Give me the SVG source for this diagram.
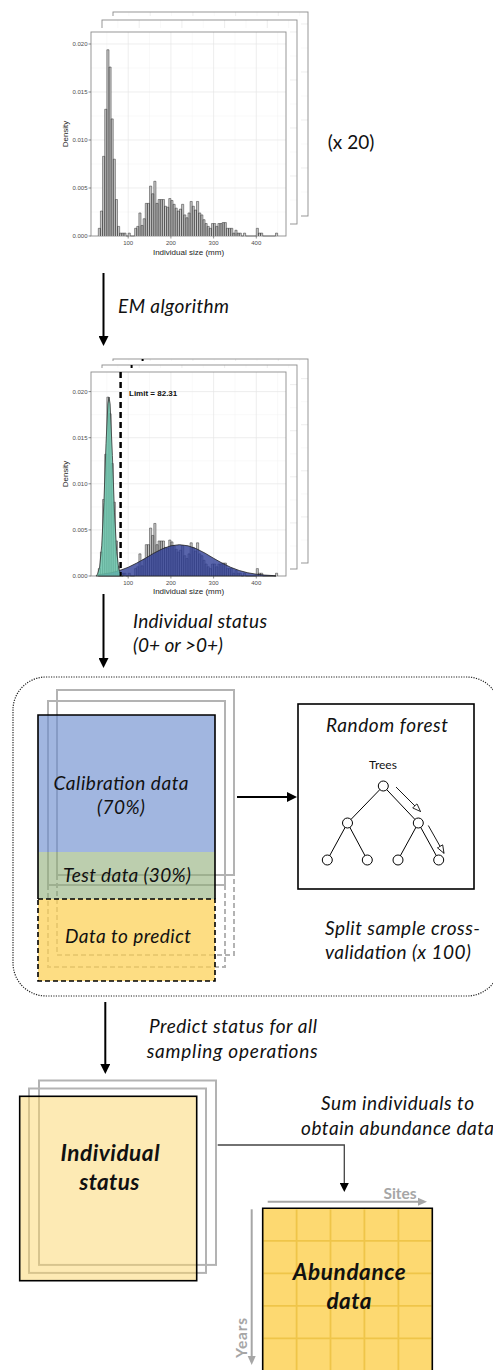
<svg xmlns="http://www.w3.org/2000/svg" xmlns:xlink="http://www.w3.org/1999/xlink" width="493" height="1370" viewBox="0 0 493 1370">
<style>
.t{font-family:Lato,"Open Sans","DejaVu Sans",sans-serif;fill:#111}
.i{font-style:italic;font-size:19px}
.r{font-size:19px}
.b{font-weight:bold;font-style:italic;font-size:22.5px}
.ax{font-family:"Liberation Sans",Arial,sans-serif;font-size:6px;fill:#4d4d4d}
.at{font-family:"Liberation Sans",Arial,sans-serif;font-size:8px;fill:#222}
.bg{fill:#fff}
.gmin{stroke:#f3f3f3;stroke-width:.5}
.gmaj{stroke:#e6e6e6;stroke-width:.7}
.pb{fill:none;stroke:#8c8c8c;stroke-width:.9}
.tk{stroke:#444;stroke-width:.6}
.fr{fill:none;stroke:#b3b3b3;stroke-width:2}
.frd{fill:none;stroke:#b3b3b3;stroke-width:2;stroke-dasharray:5 3}
.bk{fill:none;stroke:#000;stroke-width:1.6}
.arr{fill:none;stroke:#000;stroke-width:2}
.tr{fill:none;stroke:#000;stroke-width:1}
.nd{fill:#fff;stroke:#000;stroke-width:1}
.gr{fill:none;stroke:#a6a6a6;stroke-width:2}
.sg{font-family:Lato,"Open Sans",sans-serif;font-weight:bold;fill:#a6a6a6;font-size:15.5px}
</style>
<defs>
<marker id="ah" markerUnits="userSpaceOnUse" markerWidth="10" markerHeight="10" refX="7" refY="5" orient="auto"><path d="M0,0 L10,5 L0,10 z" fill="#000"/></marker>
<marker id="ah2" markerUnits="userSpaceOnUse" markerWidth="9" markerHeight="9" refX="6" refY="4.5" orient="auto"><path d="M0,0 L9,4.5 L0,9 z" fill="#000"/></marker>
<marker id="ag" markerUnits="userSpaceOnUse" markerWidth="10" markerHeight="10" refX="6" refY="5" orient="auto"><path d="M0,1 L9,5 L0,9 z" fill="#a6a6a6"/></marker>
<marker id="oa" markerUnits="userSpaceOnUse" markerWidth="10" markerHeight="8" refX="8.5" refY="3.5" orient="auto"><path d="M0.5,0.5 L8.5,3.5 L0.5,6.5 z" fill="#fff" stroke="#000" stroke-width=".8"/></marker>
<path id="bars" vector-effect="non-scaling-stroke" fill="#c6c6c6" stroke="#333" stroke-width=".5" d="M98.3 0v-.8h2.135v.8v-2.6h2.135v2.6v-8.3h2.135v8.3v-13.2h2.135v13.2v-19.4h2.135v19.4v-17.6h2.135v17.6v-12.2h2.135v12.2v-8h2.135v8v-3.8h2.135v3.8v-1h2.135v1v-.3h2.135v.3v-.3h2.135v.3v-.3h2.135v.3h2.135v-.3h2.135v.3h4.27v-.8h2.135v.8v-1h2.135v1v-2.4h2.135v2.4v-1.1h2.135v1.1v-1.8h2.135v1.8v-3.4h2.135v3.4v-3.4h2.135v3.4v-5.2h2.135v5.2v-4.4h2.135v4.4v-5.7h2.135v5.7v-3.4h2.135v3.4v-3.8h2.135v3.8v-3.8h2.135v3.8v-3.8h2.135v3.8v-3.1h2.135v3.1v-3h2.135v3v-3.9h2.135v3.9v-3.7h2.135v3.7v-3.3h2.135v3.3v-2.9h2.135v2.9v-2.6h2.135v2.6v-2.8h2.135v2.8v-3.3h2.135v3.3v-2.2h2.135v2.2v-1.9h2.135v1.9v-2.4h2.135v2.4v-3.6h2.135v3.6v-3.1h2.135v3.1v-2.7h2.135v2.7v-3.6h2.135v3.6v-2.4h2.135v2.4v-2.2h2.135v2.2v-1.7h2.135v1.7v-1.3h2.135v1.3v-1h2.135v1v-.8h2.135v.8v-1.3h2.135v1.3v-1.3h2.135v1.3v-1h2.135v1v-1.3h2.135v1.3v-1.3h2.135v1.3v-1.4h2.135v1.4v-1.4h2.135v1.4v-.8h2.135v.8v-.8h2.135v.8v-.8h2.135v.8v-.3h2.135v.3v-.6h2.135v.6v-.3h2.135v.3v-.3h2.135v.3h2.135v-.3h2.135v.3h10.675v-.8h2.135v.8v-.3h2.135v.3v-.3h2.135v.3h12.81v-.3h2.135v.3"/>
<g id="p1">
<path class="gmin" d="M106.85 32V236M149.55 32V236M192.25 32V236M234.95 32V236M277.65 32V236M91 212H286M91 164H286M91 116H286M91 68H286"/>
<path class="gmaj" d="M128.2 32V236M170.9 32V236M213.6 32V236M256.3 32V236M91 188H286M91 140H286M91 92H286M91 44H286"/>
<rect class="pb" x="91" y="32" width="195" height="204"/>
</g>
<g id="p2">
<path class="gmin" d="M106.85 372V576M149.55 372V576M192.25 372V576M234.95 372V576M277.65 372V576M91 553H286M91 506.9H286M91 460.8H286M91 414.7H286"/>
<path class="gmaj" d="M128.2 372V576M170.9 372V576M213.6 372V576M256.3 372V576M91 529.9H286M91 483.8H286M91 437.7H286M91 391.6H286"/>
<rect class="pb" x="91" y="372" width="195" height="204"/>
<path d="M120.6 372V576" stroke="#000" stroke-width="2" stroke-dasharray="6 4"/>
</g>
</defs>

<g id="hist1">
<g transform="translate(22,-20)"><rect class="bg" x="60" y="28" width="230" height="236"/><use xlink:href="#p1"/></g>
<g transform="translate(11,-12)"><rect class="bg" x="60" y="28" width="230" height="236"/><use xlink:href="#p1"/></g>
<rect class="bg" x="60" y="28" width="230" height="236"/>
<use xlink:href="#p1"/>
<use xlink:href="#bars" transform="translate(0,236) scale(1,9.6)"/>
<path class="tk" d="M88.5 236H91M88.5 188H91M88.5 140H91M88.5 92H91M88.5 44H91M128.2 236V238.5M170.9 236V238.5M213.6 236V238.5M256.3 236V238.5"/>
<g class="ax" text-anchor="end"><text x="87.5" y="238">0.000</text><text x="87.5" y="190">0.005</text><text x="87.5" y="142">0.010</text><text x="87.5" y="94">0.015</text><text x="87.5" y="46">0.020</text></g>
<g class="ax" text-anchor="middle"><text x="128.2" y="244.5">100</text><text x="170.9" y="244.5">200</text><text x="213.6" y="244.5">300</text><text x="256.3" y="244.5">400</text></g>
<text class="at" x="188.5" y="254.5" text-anchor="middle">Individual size (mm)</text>
<text class="at" transform="translate(68,134) rotate(-90)" text-anchor="middle">Density</text>
</g>
<text id="x20" class="t r" x="351" y="149" text-anchor="middle">(x 20)</text>

<g id="hist2">
<g transform="translate(22,-13)"><rect class="bg" x="60" y="368" width="230" height="236"/><use xlink:href="#p2"/></g>
<g transform="translate(11,-7)"><rect class="bg" x="60" y="368" width="230" height="236"/><use xlink:href="#p2"/></g>
<rect class="bg" x="60" y="368" width="230" height="236"/>
<use xlink:href="#p2"/>
<use xlink:href="#bars" transform="translate(0,576) scale(1,9.22)"/>
<path fill="#2f3e96" fill-opacity=".8" stroke="#222" stroke-width=".8" d="M98.3 576L98.3 574.7L111.1 572.8L119.7 570.5L128.2 567.3L136.7 563.1L145.3 558.3L153.8 553.2L162.4 548.8L170.9 545.8L179.4 544.7L188 545.8L196.5 548.8L205.1 553.2L213.6 558.3L222.1 563.1L230.7 567.3L239.2 570.5L247.8 572.8L256.3 574.2L264.8 575.1L273.4 575.6L276 576Z"/>
<path fill="#6ccab0" fill-opacity=".8" stroke="#333" stroke-width=".8" d="M96 576L97.5 574.1L99.6 567L101.7 545.9L103.9 502.5L106 443.8L107.9 403.9L109 397.1L110.1 403.9L112.4 455.5L114.5 512.9L116.7 551.8L118.8 569.2L120.9 574.6L123.1 576Z"/>
<path d="M120.6 372V576" stroke="#000" stroke-width="2" stroke-dasharray="6 4"/>
<text x="129" y="396" font-family="Liberation Sans, Arial, sans-serif" font-weight="bold" font-size="8" fill="#111">Limit = 82.31</text>
<path class="tk" d="M88.5 576H91M88.5 529.9H91M88.5 483.8H91M88.5 437.7H91M88.5 391.6H91M128.2 576V578.5M170.9 576V578.5M213.6 576V578.5M256.3 576V578.5"/>
<g class="ax" text-anchor="end"><text x="87.5" y="578">0.000</text><text x="87.5" y="531.9">0.005</text><text x="87.5" y="485.8">0.010</text><text x="87.5" y="439.7">0.015</text><text x="87.5" y="393.6">0.020</text></g>
<g class="ax" text-anchor="middle"><text x="128.2" y="584.5">100</text><text x="170.9" y="584.5">200</text><text x="213.6" y="584.5">300</text><text x="256.3" y="584.5">400</text></g>
<text class="at" x="188.5" y="594" text-anchor="middle">Individual size (mm)</text>
<text class="at" transform="translate(68,474) rotate(-90)" text-anchor="middle">Density</text>
</g>

<g id="connectors">
<path class="arr" d="M103.5 273V343" marker-end="url(#ah)"/>
<path class="arr" d="M103.5 594V665" marker-end="url(#ah)"/>
<path class="arr" d="M237 797H294" marker-end="url(#ah)"/>
<path class="arr" d="M105.3 1002V1071" marker-end="url(#ah)"/>
<path fill="none" stroke="#444" stroke-width="1.3" d="M217.7 1145H344.3V1189" marker-end="url(#ah2)"/>
</g>

<g id="labels">
<text class="t i" x="118" y="313" textLength="111">EM algorithm</text>
<text class="t i" x="133" y="628" textLength="134">Individual status</text>
<text class="t i" x="133" y="652" textLength="90">(0+ or &gt;0+)</text>
<text class="t i" x="149" y="1033" textLength="168">Predict status for all</text>
<text class="t i" x="146.7" y="1058" textLength="171">sampling operations</text>
<text class="t i" x="321" y="1110" textLength="153">Sum individuals to</text>
<text class="t i" x="301" y="1135" textLength="193">obtain abundance data</text>
</g>

<rect id="cv-box" x="13" y="677" width="487" height="319" rx="33" fill="none" stroke="#222" stroke-width="1.2" stroke-dasharray="1.2 1.3"/>

<g id="data-stack">
<path class="fr" d="M57 875V690H234V875ZM48 885V701H225V885Z"/>
<path class="frd" d="M57 875V955H234V875M48 885V967H225V885"/>
<rect x="38" y="715" width="177" height="137" fill="#6f8fcf" fill-opacity=".65"/>
<rect x="38" y="852" width="177" height="47" fill="#8fae78" fill-opacity=".6"/>
<rect x="38" y="899" width="177" height="82" fill="#fcd25a" fill-opacity=".75"/>
<path class="bk" d="M38 899V715H215V899"/>
<rect x="38" y="899" width="177" height="82" fill="none" stroke="#000" stroke-width="1.6" stroke-dasharray="5 3"/>
<text class="t i" x="121" y="790" text-anchor="middle" textLength="135">Calibration data</text>
<text class="t i" x="121" y="814" text-anchor="middle" textLength="48">(70%)</text>
<text class="t i" x="127" y="882" text-anchor="middle" textLength="128">Test data (30%)</text>
<text class="t i" x="128" y="943" text-anchor="middle" textLength="126">Data to predict</text>
</g>

<g id="random-forest">
<rect x="298" y="704" width="176" height="185" fill="#fff" stroke="#000" stroke-width="1.6"/>
<text class="t i" x="387" y="732" text-anchor="middle" textLength="122">Random forest</text>
<text class="t" x="383" y="769" text-anchor="middle" font-size="12">Trees</text>
<path class="tr" d="M383.3 786L347.5 823L327.3 860M347.5 823L367.3 860M383.3 786L418.3 823L398 860M418.3 823L438.7 860"/>
<circle class="nd" cx="383.3" cy="786" r="5"/>
<circle class="nd" cx="347.5" cy="823" r="5"/>
<circle class="nd" cx="418.3" cy="823" r="5"/>
<circle class="nd" cx="327.3" cy="860" r="5"/>
<circle class="nd" cx="367.3" cy="860" r="5"/>
<circle class="nd" cx="398" cy="860" r="5"/>
<circle class="nd" cx="438.7" cy="860" r="5"/>
<path stroke="#000" stroke-width=".9" d="M396 787L420.5 811.5" marker-end="url(#oa)"/>
<path stroke="#000" stroke-width=".9" d="M428.3 825.5L444 853.3" marker-end="url(#oa)"/>
</g>
<text id="cv-label" class="t i"><tspan x="325" y="935" textLength="155">Split sample cross-</tspan><tspan x="325" y="959" textLength="146">validation (x 100)</tspan></text>

<g id="individual-status">
<rect class="fr" x="39" y="1080.5" width="177" height="184.4"/>
<rect class="fr" x="29" y="1088.5" width="177" height="184.4"/>
<rect x="19.7" y="1096.3" width="177" height="184.4" fill="#fcd56a" fill-opacity=".5" stroke="#000" stroke-width="1.6"/>
<text class="t b" x="110" y="1161" text-anchor="middle" textLength="99">Individual</text>
<text class="t b" x="109.3" y="1190" text-anchor="middle" textLength="60">status</text>
</g>

<g id="abundance">
<rect x="262.7" y="1208.3" width="169.6" height="175" fill="#fdd971"/>
<path stroke="#efc549" stroke-width="1.8" d="M296.6 1209.5V1370M330.5 1209.5V1370M364.4 1209.5V1370M398.4 1209.5V1370M263.5 1240.8H431.5M263.5 1273.3H431.5M263.5 1305.8H431.5M263.5 1338.3H431.5"/>
<path class="bk" d="M262.7 1371V1208.3H432.3V1371"/>
<text class="t b" x="349.3" y="1280" text-anchor="middle" textLength="113">Abundance</text>
<text class="t b" x="349" y="1309" text-anchor="middle" textLength="45">data</text>
<path class="gr" d="M267.7 1201.7H424" marker-end="url(#ag)"/>
<path class="gr" d="M251.7 1209.3V1362" marker-end="url(#ag)"/>
<text class="sg" x="400" y="1199" text-anchor="middle" textLength="33">Sites</text>
<text class="sg" transform="translate(246.5,1338) rotate(-90)" text-anchor="middle" textLength="40">Years</text>
</g>
</svg>
